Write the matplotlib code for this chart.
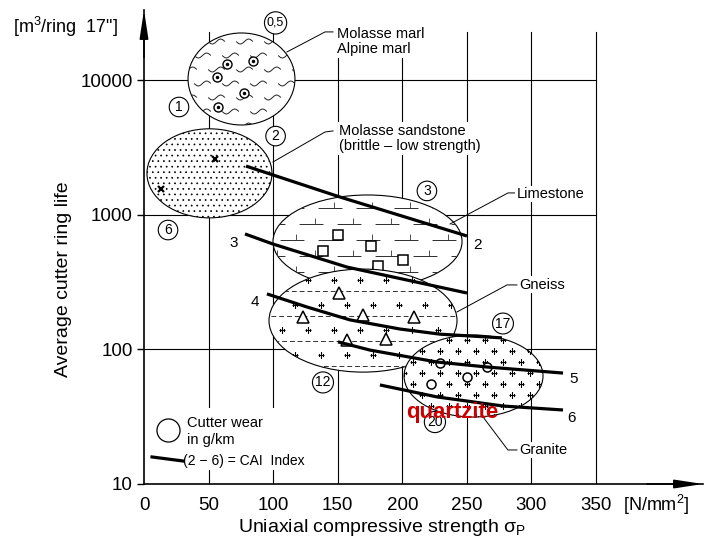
import numpy as np
import matplotlib.pyplot as plt
from matplotlib.patches import Ellipse, Rectangle
from matplotlib.path import Path

plt.rcParams['font.family'] = ['Liberation Sans', 'DejaVu Sans']
plt.rcParams['hatch.linewidth'] = 0.5

#%% data
# strength in N/mm2, ring life in m3/ring (log axis, drawn as log10)
rocks = ["Molasse marl", "Molasse sandstone", "Limestone", "Gneiss", "Granite"]
rock_sigma = [75.5, 50.7, 173.1, 169.6, 255.2]
rock_life = [10260, 2040, 635, 164, 63.5]
rock_halfwidth = [41.4, 48.4, 73.2, 72.8, 53.8]      # N/mm2
rock_halfheight = [0.342, 0.331, 0.346, 0.383, 0.305]  # decades

# CAI index curves
cai_labels = ["2", "3", "4", "5", "6"]
cai_sigma = [
    [79.0, 151.8, 250.1],
    [78.2, 99.9, 157.2, 250.1],
    [95.2, 126.2, 159.5, 198.2, 229.2, 277.2],
    [150.2, 175.0, 226.9, 265.6, 324.5],
    [182.7, 226.9, 278.0, 324.5],
]
cai_life = [
    [2310, 1360, 698],
    [723, 608, 410, 263],
    [259, 207, 166, 142, 130, 122],
    [114, 99, 80.7, 74.1, 66.8],
    [54.5, 44.4, 38.0, 35.5],
]

# single test results inside each rock field
marl_sigma = [64.3, 84.4, 56.5, 77.4, 57.3]
marl_life = [13270, 13960, 10620, 8070, 6350]
sand_sigma = [55.0, 13.2]
sand_life = [2610, 1560]
lime_sigma = [150.2, 175.8, 138.6, 200.6, 181.2]
lime_life = [710, 589, 540, 462, 418]
gneiss_sigma = [151.0, 123.1, 169.6, 209.1, 157.2, 187.4]
gneiss_life = [263, 175, 181, 175, 118, 120]
granite_sigma = [229.2, 265.6, 250.1, 222.2]
granite_life = [79.4, 74.1, 62.5, 55.3]

# cutter wear in g/km (circled numbers)
wear_values = ["0,5", "1", "2", "6", "3", "12", "17", "20"]
wear_sigma = [101.9, 27.1, 101.9, 18.6, 219.1, 138.6, 278.0, 225.3]
wear_life = [26800, 6350, 3860, 773, 1510, 56.9, 156, 28.9]

x_ticks = [0, 50, 100, 150, 200, 250, 300, 350]
y_ticks = [10, 100, 1000, 10000]

lg = np.log10

#%% figure
fig = plt.figure(figsize=(7.19, 5.41), dpi=100)
ax = fig.add_axes([144/719, 57/541, 559/719, 474/541])
ax.set_xlim(0, 432.9)
ax.set_ylim(1, 4.524)
PX = 1/1.2914   # data units per pixel, x
PY = 1/134.5    # decades per pixel, y

for s in ['top', 'right']:
    ax.spines[s].set_visible(False)
for s in ['left', 'bottom']:
    ax.spines[s].set_linewidth(1.2)

ax.set_xticks(x_ticks)
ax.set_xticklabels([str(v) for v in x_ticks], fontsize=13.5)
ax.set_yticks([lg(v) for v in y_ticks])
ax.set_yticklabels([str(v) for v in y_ticks], fontsize=13.5)
ax.tick_params(axis='x', length=0, pad=9.4)
ax.tick_params(axis='y', length=5, width=1, pad=3)

arrow = dict(arrowstyle='-|>,head_length=0.85,head_width=0.13', color='k',
             lw=1.2, mutation_scale=20, shrinkA=0, shrinkB=0)
ax.annotate('', xy=(1, 0), xycoords='axes fraction', xytext=(0.9, 0), arrowprops=arrow)
ax.annotate('', xy=(0, 1), xycoords='axes fraction', xytext=(0, 0.9), arrowprops=arrow)

# grid
for v in y_ticks[1:]:
    ax.plot([0, 350], [lg(v), lg(v)], color='k', lw=0.8, zorder=1)
for v in x_ticks[1:]:
    ax.plot([v, v], [1, 4.361], color='k', lw=0.8, zorder=1)

# white area behind legend breaks the grid
ax.add_patch(Rectangle((5, 1.104), 125, 0.46, fc='white', ec='none', zorder=1.5))


def texture(patch, cx, cy, hw, hh, dx, dy, shift, z, **kw):
    # regular pattern inside an ellipse, spacing given in pixels
    xs, ys = [], []
    rows = np.arange(cy - hh, cy + hh + dy*PY, dy*PY)
    for i, y in enumerate(rows):
        x0 = cx - hw + (shift*PX if i % 2 else 0)
        for x in np.arange(x0, cx + hw + dx*PX, dx*PX):
            xs.append(x)
            ys.append(y)
    ln, = ax.plot(xs, ys, ls='none', zorder=z, **kw)
    ln.set_clip_path(patch)
    return ln


brick = Path([(-1, 0), (1, 0), (0.3, 0), (0.3, 0.5)],
             [Path.MOVETO, Path.LINETO, Path.MOVETO, Path.LINETO])
tw = np.linspace(-1, 1, 13)
wave = Path(np.column_stack([tw, 0.3*np.sin(np.pi*tw)]))

ells = []
for i in range(len(rocks)):
    z = 2 + i
    cx, cy = rock_sigma[i], lg(rock_life[i])
    hw, hh = rock_halfwidth[i], rock_halfheight[i]
    e = Ellipse((cx, cy), 2*hw, 2*hh, fc='white', ec='k', lw=0.8, zorder=z)
    if rocks[i] == "Molasse sandstone":
        e.set_hatch('...')
    ax.add_patch(e)
    ells.append(e)
    if rocks[i] == "Molasse marl":
        texture(e, cx, cy, hw, hh, 28, 14, 14, z + 0.1, marker=wave,
                ms=12, color='#222222', mew=0.7, mfc='none')
    elif rocks[i] == "Limestone":
        texture(e, cx, cy, hw, hh, 38, 16, 19, z + 0.1, marker=brick,
                ms=17, color='#333333', mew=0.6, mfc='none')
    elif rocks[i] == "Gneiss":
        for j, y in enumerate(np.arange(cy - hh + 6*PY, cy + hh, 25*PY)):
            ln, = ax.plot([cx - hw, cx + hw], [y, y], color='#333333', lw=0.7,
                          ls=(j*3, (5, 3)), zorder=z + 0.1)
            ln.set_clip_path(e)
        texture(e, cx, cy - hh + 18.5*PY, hw, hh, 26, 25, 13, z + 0.1,
                marker='+', ms=5, color='k', mew=0.8)
    elif rocks[i] == "Granite":
        texture(e, cx, cy, hw, hh, 18, 11, 9, z + 0.1, marker='+',
                ms=5, color='k', mew=0.8)

# test points
ax.plot(marl_sigma, lg(marl_life), 'o', ms=6.5, mfc='white', mec='k', mew=1, zorder=2.5)
ax.plot(marl_sigma, lg(marl_life), '.', ms=3, color='k', zorder=2.6)
ax.plot(sand_sigma, lg(sand_life), 'x', ms=5, color='k', mew=1.6, zorder=3.5)
ax.plot(lime_sigma, lg(lime_life), 's', ms=7, mfc='white', mec='k', mew=1.1, zorder=4.5)
ax.plot(gneiss_sigma, lg(gneiss_life), '^', ms=8, mfc='white', mec='k', mew=1.1, zorder=5.5)
ax.plot(granite_sigma, lg(granite_life), 'o', ms=6.5, mfc='white', mec='k', mew=1.1, zorder=6.5)

# CAI curves
for xs, ys in zip(cai_sigma, cai_life):
    ax.plot(xs, lg(ys), color='k', lw=2.3, solid_capstyle='butt', zorder=10)
lab_pos = [(257.9, 2.777), (69.7, 2.792), (86.0, 2.353), (333.0, 1.781), (331.4, 1.491)]
for s, (x, y) in zip(cai_labels, lab_pos):
    ax.text(x, y, s, fontsize=11, ha='center', va='center', zorder=11)

# cutter wear circles
for s, x, v in zip(wear_values, wear_sigma, wear_life):
    ax.text(x, lg(v), s, fontsize=10 if len(s) < 3 else 9, ha='center', va='center',
            zorder=12, clip_on=False,
            bbox=dict(boxstyle='circle,pad=0.2', fc='white', ec='k', lw=0.8))

# rock names with leaders
white = dict(fc='white', ec='none', pad=1)
names = [("Molasse marl\nAlpine marl", 149.4, 4.290,
          [(110.7, 4.212), (140.2, 4.361), (146.4, 4.361)]),
         ("Molasse sandstone\n(brittle – low strength)", 151.0, 3.569,
          [(99.9, 3.394), (140.2, 3.617), (146.4, 3.625)]),
         ("Limestone", 288.8, 3.156, [(237.0, 2.933), (281.9, 3.164), (288.1, 3.164)]),
         ("Gneiss", 290.4, 2.480, [(242.4, 2.279), (281.1, 2.480), (288.8, 2.480)]),
         ("Granite", 290.4, 1.253, [(262.5, 1.499), (281.8, 1.253), (288.8, 1.253)])]
for s, x, y, pts in names:
    ax.text(x, y, s, fontsize=10.5, ha='left', va='center', zorder=11,
            linespacing=1.15, bbox=white)
    ax.plot([p[0] for p in pts], [p[1] for p in pts], color='k', lw=0.7, zorder=9)

ax.text(238.5, 1.528, "quartzite", fontsize=16, fontweight='bold', color='#cc0000',
        ha='center', va='center', zorder=13)

# legend
ax.plot([18.2], [1.405], 'o', ms=16.6, mfc='white', mec='k', mew=0.9, zorder=11)
ax.text(33.3, 1.454, "Cutter wear", fontsize=10.5, va='center', zorder=11)
ax.text(33.3, 1.327, "in g/km", fontsize=10.5, va='center', zorder=11)
ax.plot([6.2, 30.2], [1.201, 1.171], color='k', lw=2.3, zorder=11)
ax.text(30.2, 1.171, "(2 − 6) = CAI  Index", fontsize=10, va='center', zorder=11)

# axis titles and units
ax.text(-62.7, 2.520, "Average cutter ring life", rotation=90, fontsize=14,
        ha='center', va='center', clip_on=False)
ax.text(184.3, 0.680, r"Uniaxial compressive strength $\mathregular{\sigma_P}$", fontsize=14,
        ha='center', va='center', clip_on=False)
ax.text(-101.4, 4.398, r'[m$\mathregular{^3}$/ring  17"]', fontsize=13,
        ha='left', va='center', clip_on=False)
ax.text(370.9, 0.844, r"[N/mm$\mathregular{^2}$]", fontsize=13,
        ha='left', va='center', clip_on=False)

fig.savefig("out.png", dpi=100)
